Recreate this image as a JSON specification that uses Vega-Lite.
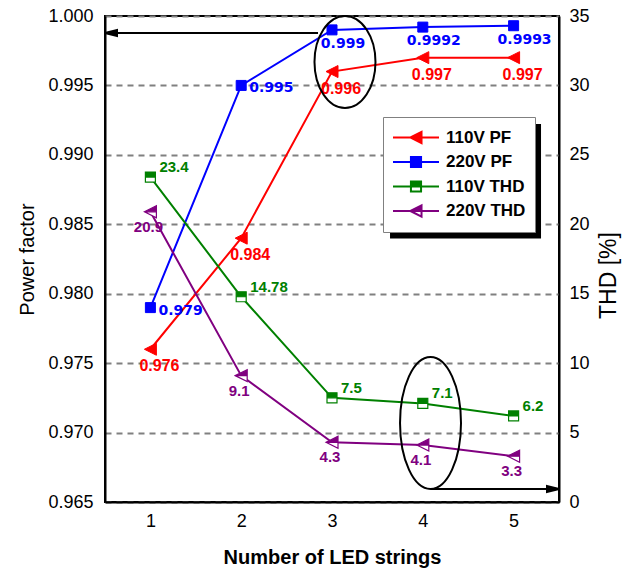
{
  "$schema": "https://vega.github.io/schema/vega-lite/v6.json",
  "width": 454,
  "height": 486,
  "autosize": "none",
  "padding": {"left": 105, "top": 16, "right": 75, "bottom": 76},
  "background": "white",
  "config": {
    "view": {"stroke": "black", "strokeWidth": 2},
    "font": "Liberation Sans"
  },
  "datasets": {
    "pf": [
      {"n": 1, "series": "110V PF", "v": 0.976, "t": "0.976"},
      {"n": 2, "series": "110V PF", "v": 0.984, "t": "0.984"},
      {"n": 3, "series": "110V PF", "v": 0.996, "t": "0.996"},
      {"n": 4, "series": "110V PF", "v": 0.997, "t": "0.997"},
      {"n": 5, "series": "110V PF", "v": 0.997, "t": "0.997"},
      {"n": 1, "series": "220V PF", "v": 0.979, "t": "0.979"},
      {"n": 2, "series": "220V PF", "v": 0.995, "t": "0.995"},
      {"n": 3, "series": "220V PF", "v": 0.999, "t": "0.999"},
      {"n": 4, "series": "220V PF", "v": 0.9992, "t": "0.9992"},
      {"n": 5, "series": "220V PF", "v": 0.9993, "t": "0.9993"}
    ],
    "thd": [
      {"n": 1, "series": "110V THD", "v": 23.4, "t": "23.4"},
      {"n": 2, "series": "110V THD", "v": 14.78, "t": "14.78"},
      {"n": 3, "series": "110V THD", "v": 7.5, "t": "7.5"},
      {"n": 4, "series": "110V THD", "v": 7.1, "t": "7.1"},
      {"n": 5, "series": "110V THD", "v": 6.2, "t": "6.2"},
      {"n": 1, "series": "220V THD", "v": 20.9, "t": "20.9"},
      {"n": 2, "series": "220V THD", "v": 9.1, "t": "9.1"},
      {"n": 3, "series": "220V THD", "v": 4.3, "t": "4.3"},
      {"n": 4, "series": "220V THD", "v": 4.1, "t": "4.1"},
      {"n": 5, "series": "220V THD", "v": 3.3, "t": "3.3"}
    ]
  },
  "encoding": {
    "x": {
      "field": "n",
      "type": "quantitative",
      "scale": {"domain": [0.5, 5.5], "nice": false, "zero": false},
      "axis": {
        "title": "Number of LED strings",
        "values": [1, 2, 3, 4, 5],
        "format": "d",
        "grid": false,
        "ticks": false,
        "tickSize": 0,
        "domainColor": "black",
        "domainWidth": 2,
        "labelFont": "Liberation Sans",
        "labelFontSize": 18,
        "labelColor": "black",
        "labelPadding": 10,
        "titleFont": "Liberation Sans",
        "titleFontSize": 20,
        "titleFontWeight": "bold",
        "titleColor": "black",
        "titlePadding": 17
      }
    }
  },
  "layer": [
    {
      "data": {"name": "pf"},
      "encoding": {
        "y": {
          "field": "v",
          "type": "quantitative",
          "scale": {"domain": [0.965, 1.0], "nice": false, "zero": false},
          "axis": {
            "orient": "left",
            "title": "Power factor",
            "values": [0.965, 0.97, 0.975, 0.98, 0.985, 0.99, 0.995, 1.0],
            "format": ".3f",
            "grid": true,
            "gridColor": "#808080",
            "gridDash": [6, 5],
            "gridWidth": 2,
            "ticks": false,
            "tickSize": 0,
            "domainColor": "black",
            "domainWidth": 2,
            "labelFont": "Liberation Sans",
            "labelFontSize": 18,
            "labelColor": "black",
            "labelPadding": 12,
            "titleFont": "Liberation Sans",
            "titleFontSize": 20,
            "titleFontWeight": "normal",
            "titleColor": "black",
            "titlePadding": 10
          }
        }
      },
      "layer": [
        {
          "data": {"values": [{"n": 3.639, "n2": 5.302, "v": 0.99222, "v2": 0.98398}]},
          "mark": {"type": "rect", "fill": "black"},
          "encoding": {"x2": {"field": "n2"}, "y2": {"field": "v2"}}
        },
        {
          "mark": {"type": "line", "strokeWidth": 2},
          "encoding": {
            "color": {
              "field": "series",
              "type": "nominal",
              "scale": {
                "domain": ["110V PF", "220V PF", "110V THD", "220V THD"],
                "range": ["#ff0000", "#0000ff", "#008000", "#800080"]
              },
              "legend": {
                "orient": "none",
                "legendX": 278,
                "legendY": 101,
                "title": null,
                "padding": 9,
                "strokeColor": "#808080",
                "fillColor": "white",
                "symbolSize": 2116,
                "symbolStrokeWidth": 2,
                "clipHeight": 23,
                "rowPadding": 1.5,
                "labelFont": "Liberation Sans",
                "labelFontSize": 17,
                "labelFontWeight": "bold",
                "labelColor": "black",
                "labelOffset": 6,
                "encode": {
                  "symbols": {
                    "update": {
                      "shape": {"signal": "datum.value === '110V PF' ? 'M -1 0 L -0.24 0 M 0.24 0 L 1 0 M -0.24 0 L 0.24 -0.24 L 0.24 0.24 Z' : datum.value === '220V PF' ? 'M -1 0 L -0.22 0 M 0.22 0 L 1 0 M -0.22 -0.22 L 0.22 -0.22 L 0.22 0.22 L -0.22 0.22 Z' : datum.value === '110V THD' ? 'M -1 0 L -0.22 0 M 0.22 0 L 1 0 M -0.22 -0.22 L 0.22 -0.22 L 0.22 0.22 L -0.22 0.22 Z M -0.22 0 L -0.22 0.22 L 0.22 0.22 L 0.22 0 Z' : 'M -1 0 L -0.24 0 M 0.24 0 L 1 0 M -0.24 0 L 0.24 -0.24 L 0.24 0.24 Z M -0.24 0 L 0.24 0.24 L 0.24 0 Z'"},
                      "fill": {"signal": "datum.value === '110V PF' ? '#ff0000' : datum.value === '220V PF' ? '#0000ff' : datum.value === '110V THD' ? '#008000' : '#800080'"},
                      "stroke": {"signal": "datum.value === '110V PF' ? '#ff0000' : datum.value === '220V PF' ? '#0000ff' : datum.value === '110V THD' ? '#008000' : '#800080'"},
                      "strokeWidth": {"value": 2},
                      "size": {"value": 2116},
                      "opacity": {"value": 1},
                      "fillOpacity": {"value": 1},
                      "strokeOpacity": {"value": 1}
                    }
                  }
                }
              }
            }
          }
        },
        {
          "transform": [{"filter": "datum.series === '110V PF'"}],
          "mark": {"type": "point", "shape": "M -1 0 L 1 -1 L 1 1 Z", "size": 144, "filled": true, "fill": "#ff0000", "stroke": "#ff0000", "strokeWidth": 1, "opacity": 1}
        },
        {
          "transform": [{"filter": "datum.series === '220V PF'"}],
          "mark": {"type": "point", "shape": "M -1 -1 L 1 -1 L 1 1 L -1 1 Z", "size": 100, "filled": true, "fill": "#0000ff", "stroke": "#0000ff", "strokeWidth": 1, "opacity": 1}
        },
        {
          "transform": [{"filter": "datum.series === '110V PF'"}],
          "mark": {"type": "text", "font": "Liberation Sans", "fontSize": 16, "fontWeight": "bold", "fill": "#ff0000", "align": "center", "baseline": "middle", "dx": 9, "dy": 17},
          "encoding": {"text": {"field": "t"}}
        },
        {
          "transform": [{"filter": "datum.series === '220V PF' && datum.n <= 2"}],
          "mark": {"type": "text", "font": "DejaVu Sans", "fontSize": 14, "fontWeight": "bold", "fill": "#0000ff", "align": "left", "baseline": "middle", "dx": 8, "dy": 3},
          "encoding": {"text": {"field": "t"}}
        },
        {
          "transform": [{"filter": "datum.series === '220V PF' && datum.n >= 3"}],
          "mark": {"type": "text", "font": "DejaVu Sans", "fontSize": 14, "fontWeight": "bold", "fill": "#0000ff", "align": "center", "baseline": "middle", "dx": 11, "dy": 14},
          "encoding": {"text": {"field": "t"}}
        },
        {
          "data": {"values": [{"n": 0.5, "n2": 2.846, "v": 0.99878}]},
          "mark": {"type": "rule", "stroke": "black", "strokeWidth": 2},
          "encoding": {"x2": {"field": "n2"}}
        },
        {
          "data": {"values": [{"n": 0.566, "v": 0.99878}]},
          "mark": {"type": "point", "shape": "M -1 0 L 1 -0.5 L 1 0.5 Z", "size": 144, "filled": true, "fill": "black", "stroke": "black", "opacity": 1}
        },
        {
          "data": {"values": [{"n": 3.143, "v": 0.99669}]},
          "mark": {"type": "point", "shape": "M 0.663 0 C 0.663 0.552 0.366 1 0 1 C -0.366 1 -0.663 0.552 -0.663 0 C -0.663 -0.552 -0.366 -1 0 -1 C 0.366 -1 0.663 -0.552 0.663 0 Z", "size": 8464, "filled": false, "stroke": "black", "strokeWidth": 2, "opacity": 1}
        }
      ]
    },
    {
      "data": {"name": "thd"},
      "encoding": {
        "y": {
          "field": "v",
          "type": "quantitative",
          "scale": {"domain": [0, 35], "nice": false, "zero": false},
          "axis": {
            "orient": "right",
            "title": "THD [%]",
            "values": [0, 5, 10, 15, 20, 25, 30, 35],
            "grid": false,
            "ticks": false,
            "tickSize": 0,
            "domainColor": "black",
            "domainWidth": 2,
            "labelFont": "Liberation Sans",
            "labelFontSize": 18,
            "labelColor": "black",
            "labelPadding": 10,
            "titleFont": "Liberation Sans",
            "titleFontSize": 23,
            "titleFontWeight": "normal",
            "titleColor": "black",
            "titleAngle": 270,
            "titleBaseline": "top",
            "titleY": 259,
            "titlePadding": 8
          }
        }
      },
      "layer": [
        {
          "mark": {"type": "line", "strokeWidth": 2},
          "encoding": {
            "color": {
              "field": "series",
              "type": "nominal",
              "scale": {
                "domain": ["110V PF", "220V PF", "110V THD", "220V THD"],
                "range": ["#ff0000", "#0000ff", "#008000", "#800080"]
              }
            }
          }
        },
        {
          "transform": [{"filter": "datum.series === '110V THD'"}],
          "mark": {"type": "point", "shape": "M -1 -1 L 1 -1 L 1 1 L -1 1 Z", "size": 100, "filled": true, "fill": "white", "stroke": "white", "strokeWidth": 0, "opacity": 1}
        },
        {
          "transform": [{"filter": "datum.series === '110V THD'"}],
          "mark": {"type": "point", "shape": "M -1 -1 L 1 -1 L 1 1 L -1 1 Z M -1 0 L -1 1 L 1 1 L 1 0 Z", "size": 100, "filled": true, "fill": "#008000", "stroke": "#008000", "strokeWidth": 1.2, "opacity": 1}
        },
        {
          "transform": [{"filter": "datum.series === '220V THD'"}],
          "mark": {"type": "point", "shape": "M -1 0 L 1 -1 L 1 1 Z", "size": 144, "filled": true, "fill": "white", "stroke": "white", "strokeWidth": 0, "opacity": 1}
        },
        {
          "transform": [{"filter": "datum.series === '220V THD'"}],
          "mark": {"type": "point", "shape": "M -1 0 L 1 -1 L 1 1 Z M -1 0 L 1 1 L 1 0 Z", "size": 144, "filled": true, "fill": "#800080", "stroke": "#800080", "strokeWidth": 1.2, "opacity": 1}
        },
        {
          "transform": [{"filter": "datum.series === '110V THD'"}],
          "mark": {"type": "text", "font": "Liberation Sans", "fontSize": 15, "fontWeight": "bold", "fill": "#008000", "align": "left", "baseline": "middle", "dx": 9, "dy": -10},
          "encoding": {"text": {"field": "t"}}
        },
        {
          "transform": [{"filter": "datum.series === '220V THD'"}],
          "mark": {"type": "text", "font": "Liberation Sans", "fontSize": 15, "fontWeight": "bold", "fill": "#800080", "align": "center", "baseline": "middle", "dx": -2, "dy": 15},
          "encoding": {"text": {"field": "t"}}
        },
        {
          "data": {"values": [{"n": 4.09, "n2": 5.5, "v": 0.936}]},
          "mark": {"type": "rule", "stroke": "black", "strokeWidth": 2},
          "encoding": {"x2": {"field": "n2"}}
        },
        {
          "data": {"values": [{"n": 5.434, "v": 0.936}]},
          "mark": {"type": "point", "shape": "M 1 0 L -1 -0.5 L -1 0.5 Z", "size": 144, "filled": true, "fill": "black", "stroke": "black", "opacity": 1}
        },
        {
          "data": {"values": [{"n": 4.085, "v": 5.689}]},
          "mark": {"type": "point", "shape": "M 0.462 0 C 0.462 0.552 0.255 1 0 1 C -0.255 1 -0.462 0.552 -0.462 0 C -0.462 -0.552 -0.255 -1 0 -1 C 0.255 -1 0.462 -0.552 0.462 0 Z", "size": 17424, "filled": false, "stroke": "black", "strokeWidth": 2, "opacity": 1}
        }
      ]
    }
  ],
  "resolve": {"scale": {"y": "independent"}}
}
